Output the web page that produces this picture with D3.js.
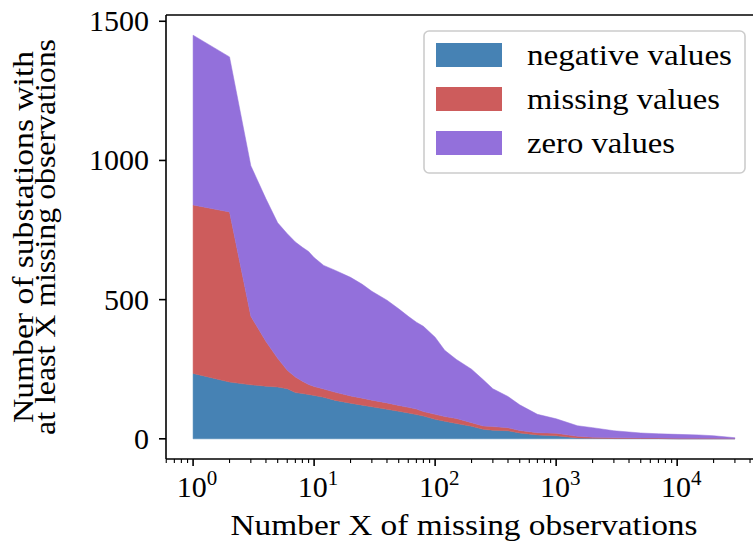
<!DOCTYPE html>
<html>
<head>
<meta charset="utf-8">
<script src="https://cdn.jsdelivr.net/npm/d3@7"></script>
<style>
  html, body { margin: 0; padding: 0; background: #fff; }
  svg { display: block; }
  text { font-family: "Liberation Serif", "Times New Roman", Times, serif; fill: #000; }
</style>
</head>
<body>
<svg id="chart" width="753" height="542"></svg>
<script>
// ---- data ----
const xValues = [1,2,3,4,5,6,7,8,9,10,12,15,20,25,30,40,50,60,70,80,100,120,150,200,250,300,400,500,700,1000,1500,2000,3000,5000,7000,10000,15000,20000,30000];
const negativeValues = [235,204,194,189,186,180,166,163,159,156,149,138,128,121,115,106,99,93,87,82,70,63,55,45,34,31,29,21,14,11,3,2,1,1,1,0,0,0,0];
const missingValues  = [605,611,246,161,103,66,56,44,36,32,30,29,26,25,24,23,21,20,20,16,18,17,18,13,12,13,11,9,8,9,6,4,3,2,2,2,2,2,1];
const zeroValues     = [610,557,541,512,487,491,485,481,478,463,444,438,426,409,391,369,347,327,312,306,277,238,212,192,166,136,112,92,66,52,38,34,25,18,15,14,12,9,3];
const seriesNames = ["negative values","missing values","zero values"];
const seriesColors = ["#4682B4","#CD5C5C","#9370DB"];
const yTicks = [0,500,1000,1500];
const xTickExps = [0,1,2,3,4];

(function () {
// ---- layout ----
const svg = d3.select("#chart");
const pLeft = 166, pRight = 762, pTop = 15, pBottom = 459;
const logMax = Math.log10(d3.max(xValues));
const margin = 0.05 * logMax;
const x = d3.scaleLog().domain([Math.pow(10, -margin), Math.pow(10, logMax + margin)]).range([pLeft, pRight]);
const yMax = 1450;
const y = d3.scaleLinear().domain([-0.05 * yMax, yMax * 1.05]).range([pBottom, pTop]);

// ---- stacked areas ----
const rows = xValues.map((xv, i) => ({
  x: xv,
  "negative values": negativeValues[i],
  "missing values": missingValues[i],
  "zero values": zeroValues[i]
}));
const stack = d3.stack().keys(seriesNames);
const layers = stack(rows);
const area = d3.area()
  .x(d => x(d.data.x))
  .y0(d => y(d[0]))
  .y1(d => y(d[1]));
svg.append("g").selectAll("path").data(layers).join("path")
  .attr("d", area)
  .attr("fill", (d, i) => seriesColors[i])
  .attr("stroke", (d, i) => seriesColors[i])
  .attr("stroke-width", 0.5);

// ---- axes ----
const axisG = svg.append("g");
function spine(x1, y1, x2, y2) {
  axisG.append("line").attr("x1", x1).attr("x2", x2).attr("y1", y1).attr("y2", y2)
    .attr("stroke", "#000").attr("stroke-width", 1.6);
}
spine(pLeft, pTop, pLeft, pBottom);
spine(pLeft, pTop, pRight, pTop);
spine(pLeft, pBottom, pRight, pBottom);
spine(pRight, pTop, pRight, pBottom);

// y ticks
yTicks.forEach(t => {
  const yy = y(t);
  axisG.append("line").attr("x1", pLeft - 7).attr("x2", pLeft).attr("y1", yy).attr("y2", yy)
    .attr("stroke", "#000").attr("stroke-width", 1.6);
  axisG.append("text").attr("x", pLeft - 17).attr("y", yy).attr("dy", "0.33em")
    .attr("text-anchor", "end").attr("font-size", 30).text(t);
});

// x minor ticks
const [d0, d1] = x.domain();
for (let e = -1; e <= 5; e++) {
  for (let m = 2; m <= 9; m++) {
    const v = m * Math.pow(10, e);
    if (v < d0 || v > d1) continue;
    const xx = x(v);
    axisG.append("line").attr("x1", xx).attr("x2", xx).attr("y1", pBottom).attr("y2", pBottom + 4)
      .attr("stroke", "#000").attr("stroke-width", 1.1);
  }
}
// x major ticks
xTickExps.forEach(e => {
  const xx = x(Math.pow(10, e));
  axisG.append("line").attr("x1", xx).attr("x2", xx).attr("y1", pBottom).attr("y2", pBottom + 7)
    .attr("stroke", "#000").attr("stroke-width", 1.6);
  const t = axisG.append("text").attr("x", xx + 4).attr("y", pBottom + 17).attr("dy", "0.71em")
    .attr("text-anchor", "middle").attr("font-size", 30);
  t.append("tspan").text("10");
  t.append("tspan").attr("font-size", 21).attr("dy", -12).text(e);
});

// axis labels
svg.append("text").attr("x", (pLeft + pRight) / 2).attr("y", 535)
  .attr("text-anchor", "middle").attr("font-size", 30)
  .attr("textLength", 467).attr("lengthAdjust", "spacingAndGlyphs")
  .text("Number X of missing observations");

const yl = svg.append("g").attr("transform", `translate(0,${(pTop + pBottom) / 2}) rotate(-90)`);
yl.append("text").attr("x", 0).attr("y", 33).attr("text-anchor", "middle").attr("font-size", 30)
  .attr("textLength", 372).attr("lengthAdjust", "spacingAndGlyphs")
  .text("Number of substations with");
yl.append("text").attr("x", 0).attr("y", 55).attr("text-anchor", "middle").attr("font-size", 30)
  .attr("textLength", 396).attr("lengthAdjust", "spacingAndGlyphs")
  .text("at least X missing observations");

// ---- legend ----
const lg = svg.append("g");
lg.append("rect").attr("x", 424).attr("y", 31).attr("width", 321).attr("height", 142)
  .attr("rx", 5).attr("fill", "#fff").attr("fill-opacity", 0.9)
  .attr("stroke", "#cccccc").attr("stroke-width", 1.6);
const legendLengths = [205, 193, 148];
seriesNames.forEach((name, i) => {
  const cy = 55 + i * 44;
  lg.append("rect").attr("x", 436).attr("y", cy - 12).attr("width", 66).attr("height", 24)
    .attr("fill", seriesColors[i]);
  lg.append("text").attr("x", 527).attr("y", cy + 10).attr("font-size", 30)
    .attr("textLength", legendLengths[i]).attr("lengthAdjust", "spacingAndGlyphs")
    .text(name);
});
})();
</script>
</body>
</html>
